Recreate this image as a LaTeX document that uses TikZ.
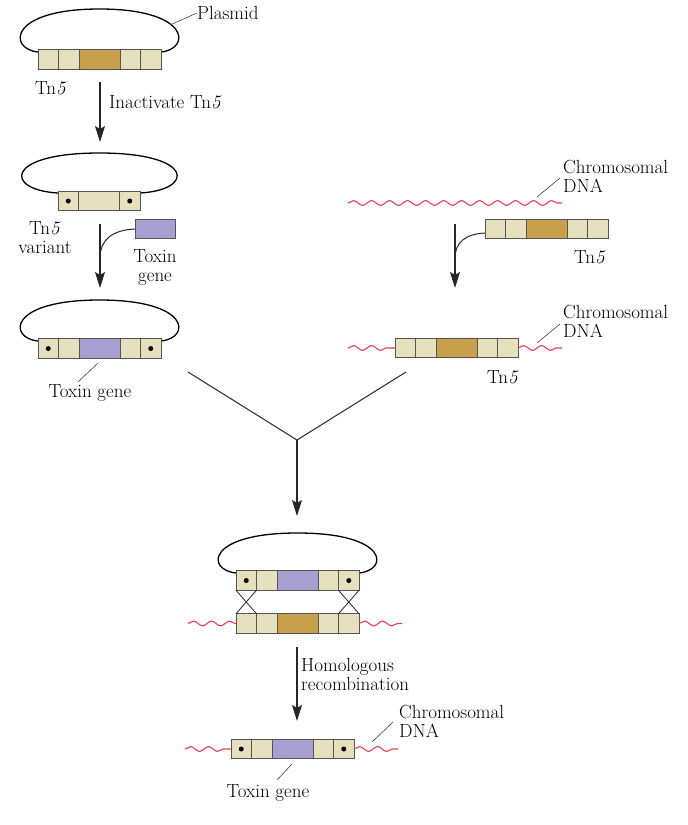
\documentclass[tikz,border=0pt]{standalone}
\usepackage{fontspec}
\usetikzlibrary{arrows.meta,decorations.pathmorphing}
\definecolor{tnbeige}{HTML}{E6E0BE}
\definecolor{tngold}{HTML}{C89F4A}
\definecolor{tnpurple}{HTML}{A79FCF}
\definecolor{tnborder}{HTML}{555555}
\definecolor{dnared}{HTML}{E8404F}
\newcommand\tnstrip[5]{%
  \node[cellbox, anchor=west] (#1a) at (#2,#3) {};
  \node[cellbox, anchor=west] (#1b) at (#1a.east) {};
  \node[cellbox, fill=#4, minimum width=41pt, anchor=west] (#1c) at (#1b.east) {};
  \node[cellbox, anchor=west] (#1d) at (#1c.east) {};
  \node[cellbox, anchor=west] (#1e) at (#1d.east) {};
  \ifnum#5=1 \fill (#1a.center) circle (2.5pt); \fill (#1e.center) circle (2.5pt);\fi
}
\tikzset{
  cellbox/.style={draw=tnborder, fill=tnbeige, line width=0.8pt, minimum width=20.5pt, minimum height=19.5pt, inner sep=0pt, outer sep=0pt},
  txt/.style={font=\fontsize{19}{19}\selectfont, inner sep=0pt, text=black},
  loopline/.style={line width=1.3pt, black},
  leader/.style={line width=0.6pt, black!75},
  arr/.style={line width=1.1pt, black!85, -{Stealth[length=16pt,width=10pt,inset=3pt]}},
  wavy/.style={dnared, line width=1.1pt, decorate, decoration={snake, amplitude=2.4pt, segment length=18pt}},
  plain/.style={line width=1pt, black!85}
}
\begin{document}
\begin{tikzpicture}[x=1pt,y=-1pt]
\useasboundingbox (0,0) rectangle (688,825);

% ---- top plasmid
\draw[loopline] (38,52) .. controls (8,49) and (8,9) .. (99.5,9) .. controls (191,9) and (191,49) .. (161,52);
\tnstrip{sa}{38}{59.5}{tngold}{0}
\node[txt, anchor=west] (plasmid) at (197,13) {Plasmid};
\coordinate (plq) at (170,25);
\draw[leader] (plq) -- (plasmid.west);
\node[txt] (tnA) at (51,88) {Tn\textit{5}};
\coordinate (a1s) at (100,82);
\coordinate (a1e) at (100,142);
\draw[arr] (a1s) -- (a1e);
\node[txt, anchor=west] (inact) at (109,102) {Inactivate Tn\textit{5}};

% ---- variant plasmid
\draw[loopline] (58,193) .. controls (4,190) and (4,153) .. (99.5,153) .. controls (195,153) and (195,190) .. (140,193);
\node[cellbox, anchor=west] (va) at (58,201) {};
\node[cellbox, minimum width=41pt, anchor=west] (vb) at (va.east) {};
\node[cellbox, anchor=west] (vc) at (vb.east) {};
\fill (va.center) circle (2.5pt); \fill (vc.center) circle (2.5pt);
\node[txt, align=center] (tnvar) at (45,238) {Tn\textit{5}\\variant};
\node[cellbox, fill=tnpurple, minimum width=40pt, anchor=west] (tox) at (135,229) {};
\node[txt, align=center] (toxlab) at (155,267) {Toxin\\gene};
\coordinate (a2s) at (100,224);
\coordinate (a2e) at (100,288);
\coordinate (a2j) at (100,258);
\draw[arr] (a2s) -- (a2e);
\draw[plain] (tox.west) .. controls (112,230) and (100,240) .. (a2j);

% ---- plasmid with toxin gene
\draw[loopline] (38,341) .. controls (8,338) and (8,300) .. (99.5,300) .. controls (191,300) and (191,338) .. (161,341);
\tnstrip{sc}{38}{348.5}{tnpurple}{1}
\coordinate (tgq) at (98,363);
\node[txt] (tg1) at (90,393) {Toxin gene};
\draw[leader] (tgq) -- (78,382);

% ---- chromosome + Tn5
\coordinate (w1s) at (348,203);
\coordinate (w1e) at (562,203);
\draw[wavy] (w1s) -- (w1e);
\node[txt, anchor=west, align=left] (chr1) at (563,176) {Chromosomal\\DNA};
\draw[leader] (537,197) -- (560,178);
\tnstrip{sb}{485}{229}{tngold}{0}
\node[txt] (tnB) at (590,257) {Tn\textit{5}};
\coordinate (a3s) at (455,224);
\coordinate (a3e) at (455,288);
\coordinate (a3j) at (455,258);
\draw[arr] (a3s) -- (a3e);
\draw[plain] (sba.west) ++(0,4) .. controls (466,234) and (455,242) .. (a3j);

\tnstrip{sd}{395}{348}{tngold}{0}
\coordinate (w2s) at (348,348);
\coordinate (w3e) at (562,348);
\draw[wavy] (w2s) -- (sda.west);
\draw[wavy] (sde.east) -- (w3e);
\node[txt, anchor=west, align=left] (chr2) at (563,321) {Chromosomal\\DNA};
\draw[leader] (537,343) -- (560,324);
\node[txt] (tnC) at (503,377) {Tn\textit{5}};

% ---- convergence
\coordinate (cl) at (188,372);
\coordinate (cr) at (406,372);
\coordinate (cm) at (297,440);
\coordinate (cme) at (297,516);
\draw[plain] (cl) -- (cm) -- (cr);
\draw[arr] (cm) -- (cme);

% ---- recombination
\draw[loopline] (236,573) .. controls (206,570) and (206,533) .. (297.5,533) .. controls (389,533) and (389,570) .. (359,573);
\tnstrip{se}{236}{580.5}{tnpurple}{1}
\tnstrip{sf}{236}{623.5}{tngold}{0}
\draw[plain, line width=0.8pt] (sea.south west) -- (sfa.north east);
\draw[plain, line width=0.8pt] (sea.south east) -- (sfa.north west);
\draw[plain, line width=0.8pt] (see.south west) -- (sfe.north east);
\draw[plain, line width=0.8pt] (see.south east) -- (sfe.north west);
\coordinate (w4s) at (188,623.5);
\coordinate (w5e) at (402,623.5);
\draw[wavy] (w4s) -- (sfa.west);
\draw[wavy] (sfe.east) -- (w5e);

\coordinate (a4s) at (297,647);
\coordinate (a4e) at (297,721);
\draw[arr] (a4s) -- (a4e);
\node[txt, anchor=west, align=left] (homrec) at (301,674) {Homologous\\recombination};

% ---- final
\tnstrip{sg}{231}{749}{tnpurple}{1}
\coordinate (w6s) at (185,749);
\coordinate (w7e) at (398,749);
\draw[wavy] (w6s) -- (sga.west);
\draw[wavy] (sge.east) -- (w7e);
\node[txt, anchor=west, align=left] (chr3) at (399,721) {Chromosomal\\DNA};
\draw[leader] (372,742) -- (393,722);
\node[txt] (tg2) at (268,793) {Toxin gene};
\draw[leader] (292,764) -- (277,780);
\end{tikzpicture}
\end{document}
